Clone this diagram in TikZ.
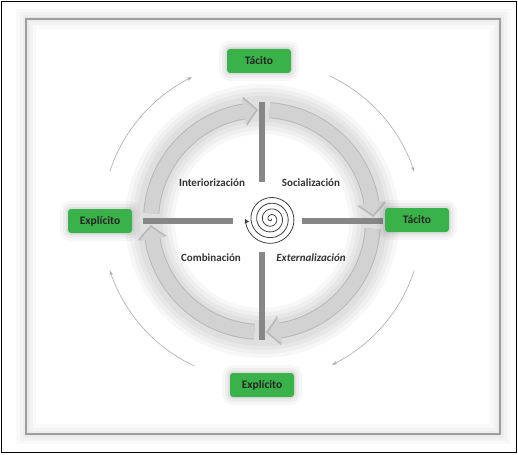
\documentclass[tikz,border=0pt]{standalone}
\usepackage{fontspec}
\setmainfont{Carlito}
\usetikzlibrary{arrows.meta,bending,positioning,calc}
\definecolor{kgreen}{RGB}{58,178,74}
\definecolor{ringgray}{RGB}{210,210,210}
\definecolor{ringedge}{RGB}{184,184,184}
\definecolor{bargray}{RGB}{135,135,135}

\begin{document}
\begin{tikzpicture}[x=1pt, y=-1pt,
  know/.style={fill=kgreen, rounded corners=3pt, minimum width=64pt, minimum height=24pt, inner sep=0pt,
    font=\fontsize{11.5}{12}\selectfont\bfseries, text=black!85,
    preaction={draw=black, line width=16pt, opacity=0.03},
    preaction={draw=black, line width=10pt, opacity=0.04},
    preaction={draw=black, line width=4pt, opacity=0.06}},
  quad/.style={font=\fontsize{11}{12}\selectfont\bfseries, text=black!80},
  ringedge/.style={draw=ringedge, line width=16pt, -{Triangle[width=29pt, length=13.5pt, bend]}},
  ringarr/.style={draw=ringgray, line width=14pt, -{Triangle[width=26pt, length=12pt, bend]}},
  bar/.style={draw=bargray, line width=6pt},
  cyc/.style={draw=gray!65, line width=0.6pt, -{Stealth[length=5pt, width=3.5pt]}},
  spir/.style={draw=black!75, line width=0.8pt, -{Triangle[length=4pt, width=4.5pt]}}
]
  \useasboundingbox (0,0) rectangle (518,454);
  \fill[white] (0,0) rectangle (518,454);
  \draw[black, line width=1.2pt] (1.5,1.5) rectangle (516.5,452.5);

  % panel with soft shadow
  \foreach \w in {20,13,7,3}
    \draw[black, opacity=0.025, line width=\w pt] (26,19) rectangle (500,434);
  \draw[gray!75, line width=1.1pt] (26,19) rectangle (500,434);

  \coordinate (C) at (262,221);

  % shadow round the ring
  \foreach \w in {50,42,34,26}
    \draw[black, opacity=0.03, line width=\w pt] (C) circle[radius=112];

  % ring of four arrows
  \foreach \s in {0,90,180,270}{
    \draw[ringedge] (C) ++({\s+4}:111) arc[start angle={\s+4}, end angle={\s+88}, radius=111];
    \draw[ringarr] (C) ++({\s+4}:111) arc[start angle={\s+4}, end angle={\s+86.8}, radius=111];
  }

  % cross bars
  \draw[bar] ($(C)+(0,-119)$) -- ($(C)+(0,-39)$);
  \draw[bar] ($(C)+(0,31)$) -- ($(C)+(0,119)$);
  \draw[bar] ($(C)+(-119,0)$) -- ($(C)+(-29,0)$);
  \draw[bar] ($(C)+(40,0)$) -- ($(C)+(121,0)$);

  % spiral
  \begin{scope}[shift={(271,219)}]
    \draw[spir] plot[domain=0:1620, samples=320, variable=\t, smooth] ({cos(\t)*\t/63}, {sin(\t)*\t/63});
  \end{scope}

  % quadrant labels
  \node[quad] (inte) at (212,183) {Interiorización};
  \node[quad] (soci) at (311,183) {Socialización};
  \node[quad] (comb) at (211,258) {Combinación};
  \node[quad] (exte) at (311,258) {\itshape Externalización};

  % knowledge nodes
  \node[know] (tacT) at (259,61) {Tácito};
  \node[know] (tacR) at (417,220) {Tácito};
  \node[know] (expL) at (100,221) {Explícito};
  \node[know] (expB) at (262,385) {Explícito};

  % outer cycle
  \draw[cyc] (C) ++(198:160) arc[start angle=198, end angle=244, radius=160];
  \draw[cyc] (C) ++(295:160) arc[start angle=295, end angle=342, radius=160];
  \draw[cyc] (C) ++(18:160) arc[start angle=18, end angle=64, radius=160];
  \draw[cyc] (C) ++(115:160) arc[start angle=115, end angle=162, radius=160];
\end{tikzpicture}
\end{document}
